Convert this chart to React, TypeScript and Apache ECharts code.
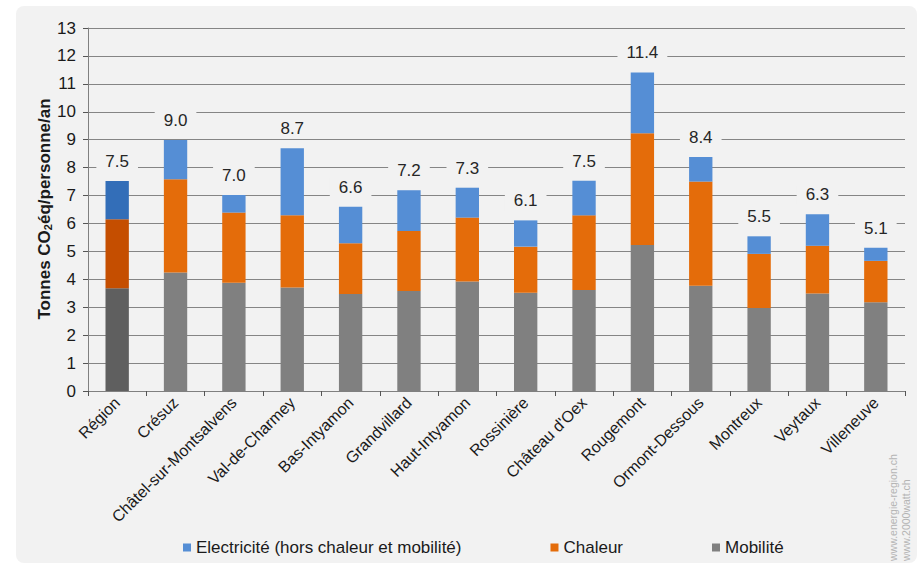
import React, { useEffect, useRef } from "react";
import * as echarts from "echarts";

const categories = [
  "Région",
  "Crésuz",
  "Châtel-sur-Montsalvens",
  "Val-de-Charmey",
  "Bas-Intyamon",
  "Grandvillard",
  "Haut-Intyamon",
  "Rossinière",
  "Château d'Oex",
  "Rougemont",
  "Ormont-Dessous",
  "Montreux",
  "Veytaux",
  "Villeneuve",
];

const mobilite = [3.68, 4.24, 3.88, 3.71, 3.47, 3.58, 3.92, 3.52, 3.62, 5.23, 3.77, 2.97, 3.49, 3.18];
const chaleur = [2.47, 3.34, 2.51, 2.58, 1.82, 2.15, 2.29, 1.65, 2.67, 4.0, 3.73, 1.94, 1.71, 1.48];
const electricite = [1.37, 1.41, 0.63, 2.4, 1.31, 1.46, 1.07, 0.94, 1.24, 2.18, 0.88, 0.63, 1.13, 0.47];

const yTicks = { min: 0, max: 13, interval: 1 };

const colors = {
  elec: "#558ed5",
  chal: "#e46c0a",
  mob: "#808080",
  elecRegion: "#336eb8",
  chalRegion: "#c54e00",
  mobRegion: "#5f5f5f",
};

const FONT = "'Liberation Sans', Arial, sans-serif";

export default function App() {
  const ref = useRef<HTMLDivElement>(null);

  useEffect(() => {
    if (!ref.current) return;
    const chart = echarts.init(ref.current, undefined, { renderer: "svg" });

    const mk = (vals: number[], c: string, cr: string) =>
      vals.map((v, i) => ({ value: v, itemStyle: { color: i === 0 ? cr : c } }));

    const option: any = {
      animation: false,
      backgroundColor: "#ffffff",
      textStyle: { fontFamily: FONT },
      graphic: [
        {
          type: "rect",
          z: -10,
          silent: true,
          shape: { x: 16, y: 6, width: 901, height: 557, r: 8 },
          style: { fill: "#f2f2f2" },
        },
        {
          type: "text",
          x: 43,
          y: 209,
          rotation: Math.PI / 2,
          style: {
            text: "{a|Tonnes CO}{b|2}{a|éq/personne/an}",
            align: "center",
            verticalAlign: "middle",
            rich: {
              a: { fontSize: 17, fontWeight: "bold", fill: "#1a1a1a", fontFamily: FONT, lineHeight: 20, verticalAlign: "bottom" },
              b: { fontSize: 11, fontWeight: "bold", fill: "#1a1a1a", fontFamily: FONT, lineHeight: 13, verticalAlign: "bottom" },
            },
          },
        },
        {
          type: "text",
          x: 893,
          y: 561,
          rotation: Math.PI / 2,
          style: {
            text: "www.energie-region.ch",
            fill: "#b4b4b4",
            font: "10.5px " + FONT,
            verticalAlign: "middle",
          },
        },
        {
          type: "text",
          x: 906,
          y: 561,
          rotation: Math.PI / 2,
          style: {
            text: "www.2000watt.ch",
            fill: "#b4b4b4",
            font: "10.5px " + FONT,
            verticalAlign: "middle",
          },
        },
      ],
      grid: { left: 88, right: 19, top: 28, bottom: 179, containLabel: false },
      legend: {
        left: 178,
        top: 534,
        itemGap: 89,
        itemWidth: 8,
        itemHeight: 8,
        icon: "rect",
        textStyle: { fontSize: 17, color: "#1a1a1a", fontFamily: FONT },
        data: ["Electricité (hors chaleur et mobilité)", "Chaleur", "Mobilité"],
      },
      xAxis: {
        type: "category",
        data: categories,
        boundaryGap: true,
        axisLine: { show: true, lineStyle: { color: "#808080", width: 1 } },
        axisTick: { show: true, length: 5, alignWithLabel: false, lineStyle: { color: "#555" } },
        axisLabel: {
          rotate: 45,
          interval: 0,
          fontSize: 16,
          color: "#1a1a1a",
          fontFamily: FONT,
          margin: 9,
        },
      },
      yAxis: {
        type: "value",
        min: yTicks.min,
        max: yTicks.max,
        interval: yTicks.interval,
        axisLine: { show: true, lineStyle: { color: "#808080", width: 1 } },
        axisTick: { show: true, length: 5, inside: false, lineStyle: { color: "#555" } },
        axisLabel: { fontSize: 17, color: "#1a1a1a", fontFamily: FONT, margin: 12 },
        splitLine: { show: true, lineStyle: { color: "#858585", width: 1 } },
      },
      series: [
        {
          name: "Mobilité",
          type: "bar",
          stack: "t",
          barWidth: "40%",
          itemStyle: { color: colors.mob },
          data: mk(mobilite, colors.mob, colors.mobRegion),
        },
        {
          name: "Chaleur",
          type: "bar",
          stack: "t",
          itemStyle: { color: colors.chal },
          data: mk(chaleur, colors.chal, colors.chalRegion),
        },
        {
          name: "Electricité (hors chaleur et mobilité)",
          type: "bar",
          stack: "t",
          itemStyle: { color: colors.elec },
          data: mk(electricite, colors.elec, colors.elecRegion),
          label: {
            show: true,
            position: "top",
            distance: 10,
            fontSize: 17,
            color: "#262626",
            fontFamily: FONT,
            backgroundColor: "#f2f2f2",
            padding: [1, 9, 1, 9],
            formatter: (p: any) => {
              const i = p.dataIndex;
              return (mobilite[i] + chaleur[i] + electricite[i]).toFixed(1);
            },
          },
        },
      ],
    };

    chart.setOption(option);
    return () => chart.dispose();
  }, []);

  return (
    <div
      ref={ref}
      style={{ position: "absolute", left: 0, top: 0, width: 924, height: 570 }}
    />
  );
}
